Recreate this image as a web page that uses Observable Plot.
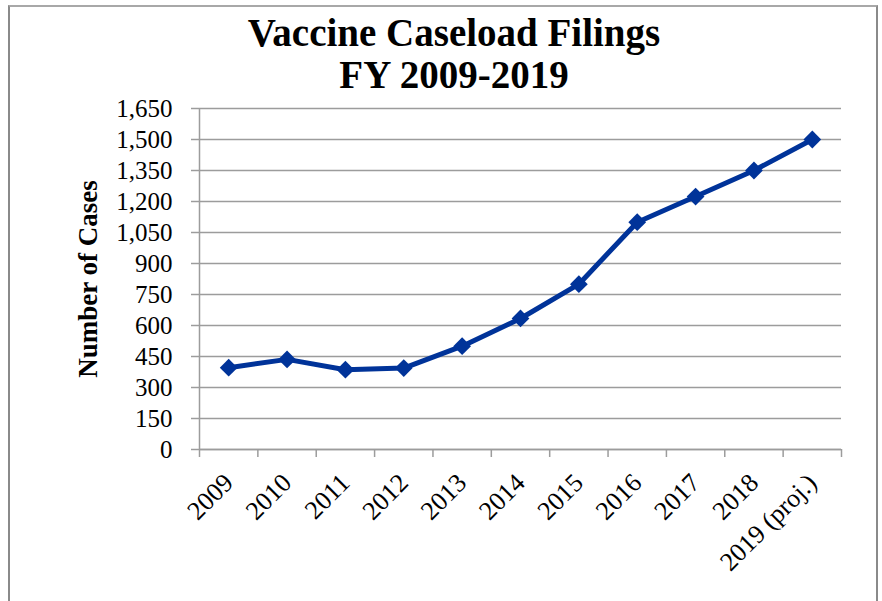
<!DOCTYPE html>
<html>
<head>
<meta charset="utf-8">
<script src="https://cdn.jsdelivr.net/npm/d3@7"></script>
<script src="https://cdn.jsdelivr.net/npm/@observablehq/plot@0.6"></script>
<style>
  body { margin: 0; background: #fff; }
  #wrap { position: relative; width: 882px; height: 601px; overflow: hidden; font-family: "Liberation Serif", serif; background: #fff; }
  #frame { position: absolute; left: 8px; top: 5px; width: 870px; height: 600px; box-sizing: border-box;
           border-left: 2px solid #8a8a8a; border-right: 2px solid #8a8a8a; border-top: 2px solid #a8a8a8; border-bottom: 1px solid #d8d8d8; }
  #title { position: absolute; left: 0; top: 12px; width: 908px; text-align: center; font-weight: bold; font-size: 39px; line-height: 42px; color: #000; }
  #chart { position: absolute; left: 0; top: 0; }
</style>
</head>
<body>
<div id="wrap">
  <div id="frame"></div>
  <div id="chart"></div>
  <div id="title">Vaccine Caseload Filings<br>FY 2009-2019</div>
</div>
<script>
const years = ["2009", "2010", "2011", "2012", "2013", "2014", "2015", "2016", "2017", "2018", "2019 (proj.)"];
const filings = [396, 436, 386, 394, 500, 634, 800, 1100, 1224, 1350, 1500];
const yTicks = [0, 150, 300, 450, 600, 750, 900, 1050, 1200, 1350, 1500, 1650];
const yLabel = "Number of Cases";

const data = years.map((year, i) => ({year, pos: i + 0.5, value: filings[i]}));
const boundaries = d3.range(0, years.length + 1);

const lineColor = "#003399";
const gridColor = "#9c9c9c";

const chart = Plot.plot({
  width: 882,
  height: 601,
  marginLeft: 199,
  marginRight: 41,
  marginTop: 108,
  marginBottom: 152,
  style: {fontFamily: "Liberation Serif, serif", fontSize: "25px", background: "transparent", color: "#000"},
  x: {type: "linear", domain: [0, years.length], axis: null},
  y: {domain: [0, 1650], axis: null},
  marks: [
    Plot.gridY(yTicks, {stroke: gridColor, strokeOpacity: 1, strokeWidth: 1.5}),
    Plot.ruleX([0], {stroke: gridColor, strokeWidth: 1.5}),
    Plot.ruleY([0], {stroke: gridColor, strokeWidth: 1.5}),
    Plot.axisY(yTicks, {tickSize: 8, tickPadding: 19, stroke: gridColor, strokeWidth: 1.5, fill: "#000", fontSize: 25,
      tickFormat: d3.format(","), label: null}),
    Plot.axisX(boundaries, {tickSize: 8, stroke: gridColor, strokeWidth: 1.5, tickFormat: () => "", label: null}),
    Plot.text(data, {x: "pos", text: "year", frameAnchor: "bottom", rotate: -45, textAnchor: "end",
      lineAnchor: "middle", dy: 29, dx: 0, fontSize: 26, fill: "#000"}),
    Plot.text([yLabel], {frameAnchor: "left", rotate: -90, textAnchor: "middle", dx: -111, fontSize: 27, fontWeight: "bold", fill: "#000"}),
    Plot.line(data, {x: "pos", y: "value", stroke: lineColor, strokeWidth: 5}),
    Plot.dot(data, {x: "pos", y: "value", symbol: "diamond2", r: 8, fill: lineColor, stroke: "none"})
  ]
});
document.getElementById("chart").appendChild(chart);
</script>
</body>
</html>
